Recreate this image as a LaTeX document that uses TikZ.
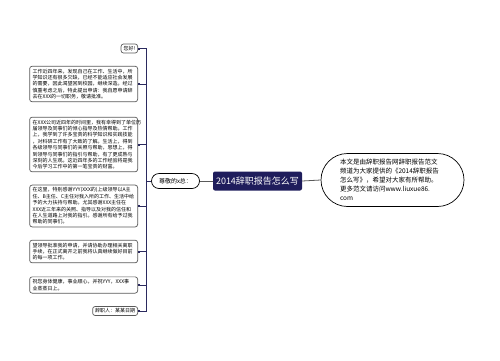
\documentclass[tikz,border=0pt]{standalone}
\usepackage{fontspec}
\setmainfont{Noto Sans CJK SC}
\usetikzlibrary{shapes.misc,arrows.meta}
\definecolor{navy}{HTML}{1F1D5C}
\definecolor{linec}{HTML}{2B2A5E}
\definecolor{boxc}{HTML}{5A5A5A}
\begin{document}
\begin{tikzpicture}[x=1pt,y=-1pt,
  box/.style={draw=boxc, line width=0.7pt, rounded corners=2.5pt, fill=white,
    align=left, font=\fontsize{5pt}{6.4pt}\selectfont, inner xsep=3pt, inner ysep=2.6pt,
    text width=102pt, anchor=east},
  smallbox/.style={draw=boxc, line width=0.7pt, rounded corners=2.5pt, fill=white,
    font=\fontsize{5pt}{6.4pt}\selectfont, inner xsep=2.5pt, inner ysep=2.2pt, anchor=east},
  pill/.style={draw=black, line width=0.7pt, rounded rectangle, fill=white},
  conn/.style={draw=linec, line width=0.8pt, -{Square[length=1.6pt,width=1.8pt]}},
  mainconn/.style={draw=boxc, line width=0.8pt}]
\useasboundingbox (0,0) rectangle (500,360);

\node[fill=navy, text=white, rounded corners=2pt, font=\fontsize{9pt}{11pt}\selectfont,
  minimum width=89pt, minimum height=19pt, inner sep=2pt] (center) at (257.5,181) {2014辞职报告怎么写};

\node[pill, font=\fontsize{6pt}{7pt}\selectfont, minimum width=51pt, minimum height=15pt, inner sep=1.5pt]
  (zj) at (175.5,181) {尊敬的x总：};

\node[pill, minimum width=155pt, minimum height=53pt, inner xsep=6pt, inner ysep=2pt,
  align=left, text width=105pt, font=\fontsize{6.5pt}{9pt}\selectfont] (note) at (392.5,180)
  {本文是由辞职报告网辞职报告范文\\频道为大家提供的《2014辞职报告\\怎么写》，希望对大家有所帮助。\\更多范文请访问www.liuxue86.\\com};

\node[smallbox] (hello) at (138,48.5) {您好!};

\node[box] (b1) at (138,84) {工作近四年来，发现自己在工作、生活中，所\\学知识还有很多欠缺，已经不能适应社会发展\\的需要，因此渴望回到校园，继续深造。经过\\慎重考虑之后，特此提出申请：我自愿申请辞\\去在XXX的一切职务，敬请批准。};

\node[box] (b2) at (138,144.5) {在XXX公司近四年的时间里，我有幸得到了单位历\\届领导及同事们的倾心指导及热情帮助。工作\\上，我学到了许多宝贵的科学知识和实践技能\\，对科研工作有了大致的了解。生活上，得到\\各级领导与同事们的关照与帮助，思想上，得\\到领导与同事们的指引与帮助，有了更成熟与\\深刻的人生观。这近四年多的工作经验将是我\\今后学习工作中的第一笔宝贵的财富。};

\node[box] (b3) at (138,206) {在这里，特别感谢YYY(XXX的)上级领导以A主\\任、B主任、C主任对我入所的工作、生活中给\\予的大力扶持与帮助。尤其感谢XXX主任在\\XXX近三年来的关照、指导以及对我的信任和\\在人生道路上对我的指引。感谢所有给予过我\\帮助的同事们。};

\node[box] (b4) at (138,251.5) {望领导批准我的申请，并请协助办理相关离职\\手续，在正式离开之前我将认真继续做好目前\\的每一项工作。};

\node[box] (b5) at (138,285) {祝您身体健康，事业顺心，并祝YYY，XXX事\\业蒸蒸日上。};

\node[smallbox] (b6) at (138,311) {辞职人：某某日期};

\coordinate (sp) at (146,181);

\draw[mainconn] (center.west) -- (zj.east);
\draw[mainconn] (center.east) -- (note.west);

\foreach \n in {hello,b1,b2,b3,b4,b5,b6}
  \draw[conn] (zj.west) -- (sp) |- (\n.east);
\end{tikzpicture}
\end{document}
